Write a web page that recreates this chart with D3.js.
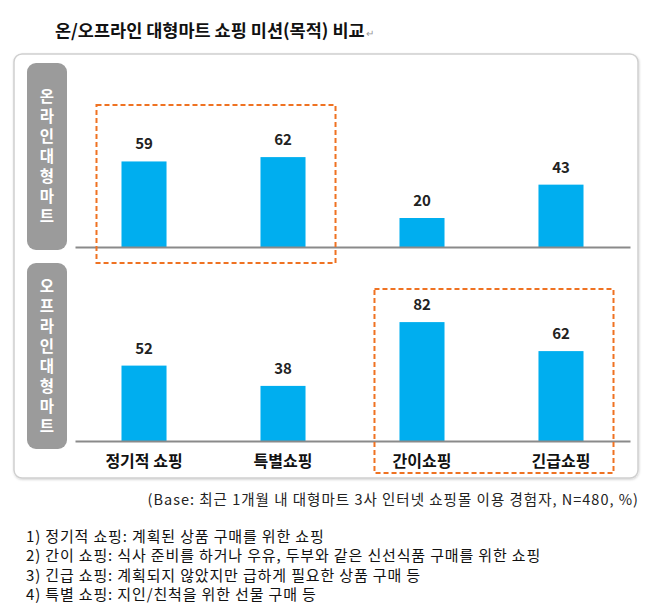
<!DOCTYPE html>
<html><head><meta charset="utf-8">
<script src="https://cdn.jsdelivr.net/npm/d3@7"></script>
<style>
html,body{margin:0;padding:0;background:#fff;}
svg{display:block;font-family:"Noto Sans CJK KR","Noto Sans",sans-serif;}
</style></head>
<body>
<svg id="chart" width="650" height="607"></svg>
<script>
const title = "온/오프라인 대형마트 쇼핑 미션(목적) 비교";
const categories = ["정기적 쇼핑", "특별쇼핑", "간이쇼핑", "긴급쇼핑"];
const panelLabels = ["온라인대형마트", "오프라인대형마트"];
const onlineValues = [59, 62, 20, 43];
const offlineValues = [52, 38, 82, 62];
const highlightOnline = ["정기적 쇼핑", "특별쇼핑"];
const highlightOffline = ["간이쇼핑", "긴급쇼핑"];
const baseNote = "(Base: 최근 1개월 내 대형마트 3사 인터넷 쇼핑몰 이용 경험자, N=480, %)";
const footnotes = [
  "1) 정기적 쇼핑: 계획된 상품 구매를 위한 쇼핑",
  "2) 간이 쇼핑: 식사 준비를 하거나 우유, 두부와 같은 신선식품 구매를 위한 쇼핑",
  "3) 긴급 쇼핑: 계획되지 않았지만 급하게 필요한 상품 구매 등",
  "4) 특별 쇼핑: 지인/친척을 위한 선물 구매 등"
];

const svg = d3.select("#chart");
const defs = svg.append("defs");
const f = defs.append("filter").attr("id","sh").attr("x","-5%").attr("y","-5%").attr("width","110%").attr("height","110%");
f.append("feDropShadow").attr("dx",0.5).attr("dy",1).attr("stdDeviation",1).attr("flood-color","#000").attr("flood-opacity",0.18);

// title
const t = svg.append("text").attr("x",55).attr("y",37)
  .attr("font-size",17.5).attr("font-weight","bold").attr("fill","#111")
  .text(title);
t.append("tspan").attr("font-size",10).attr("font-weight","normal").attr("fill","#999").attr("dx",1).text("↵");

// outer box
svg.append("rect").attr("x",14).attr("y",54).attr("width",624).attr("height",424)
  .attr("rx",8).attr("fill","#fff").attr("stroke","#cfcfcf").attr("stroke-width",1.5)
  .attr("filter","url(#sh)");

const x = d3.scaleBand().domain(categories).range([75,630]).paddingInner(0.676).paddingOuter(0.3345);

const panels = [
  {values: onlineValues, label: panelLabels[0], axisY: 247, pill:[63,250], hl: highlightOnline, box:[105,263], showCats:false},
  {values: offlineValues, label: panelLabels[1], axisY: 441, pill:[263,449], hl: highlightOffline, box:[289,473], showCats:true}
];

panels.forEach(p => {
  const y = d3.scaleLinear().domain([0,100]).range([p.axisY, p.axisY-145]);
  const g = svg.append("g");
  // pill
  g.append("rect").attr("x",27).attr("y",p.pill[0]).attr("width",40).attr("height",p.pill[1]-p.pill[0])
    .attr("rx",9).attr("fill","#9b9b9b");
  const chars = Array.from(p.label);
  const mid = (p.pill[0]+p.pill[1])/2;
  const step = 20;
  g.selectAll("text.pl").data(chars).join("text")
    .attr("x",47).attr("y",(d,i)=> mid + (i-(chars.length-1)/2)*step + 5.5)
    .attr("text-anchor","middle").attr("font-size",15.5).attr("font-weight","bold").attr("fill","#fff")
    .text(d=>d);
  // bars
  const data = categories.map((c,i)=>({c, v:p.values[i]}));
  g.selectAll("rect.bar").data(data).join("rect")
    .attr("x",d=>x(d.c)).attr("width",x.bandwidth())
    .attr("y",d=>y(d.v)).attr("height",d=>y(0)-y(d.v))
    .attr("fill","#00aeef");
  g.selectAll("text.val").data(data).join("text")
    .attr("x",d=>x(d.c)+x.bandwidth()/2).attr("y",d=>y(d.v)-12)
    .attr("text-anchor","middle").attr("font-size",15).attr("font-weight","bold").attr("fill","#222")
    .text(d=>d.v);
  // axis
  const axis = d3.axisBottom(x).tickSize(0).tickPadding(12).tickFormat(p.showCats ? (d=>d) : (()=>""));
  const ag = g.append("g").attr("transform",`translate(0,${p.axisY})`).call(axis);
  ag.select(".domain").attr("stroke","#8a8a8a").attr("stroke-width",2);
  ag.selectAll(".tick text").attr("font-size",16).attr("font-weight","bold").attr("fill","#111")
    .attr("font-family",'"Noto Sans CJK KR",sans-serif').attr("dy","0.9em");
  // highlight box
  const x0 = x(p.hl[0]) - 25, x1 = x(p.hl[p.hl.length-1]) + x.bandwidth() + 30;
  g.append("rect").attr("x",x0).attr("y",p.box[0]).attr("width",x1-x0).attr("height",p.box[1]-p.box[0])
    .attr("fill","none").attr("stroke","#ef7222").attr("stroke-width",2).attr("stroke-dasharray","5,3");
});

svg.append("text").attr("x",639).attr("y",505).attr("text-anchor","end")
  .attr("font-size",14.5).attr("letter-spacing",1.0).attr("fill","#222").text(baseNote);

svg.selectAll("text.fn").data(footnotes).join("text")
  .attr("x",26).attr("y",(d,i)=>542+i*19.3)
  .attr("font-size",15).attr("letter-spacing",0.85).attr("fill","#111").text(d=>d);
</script>
</body></html>
